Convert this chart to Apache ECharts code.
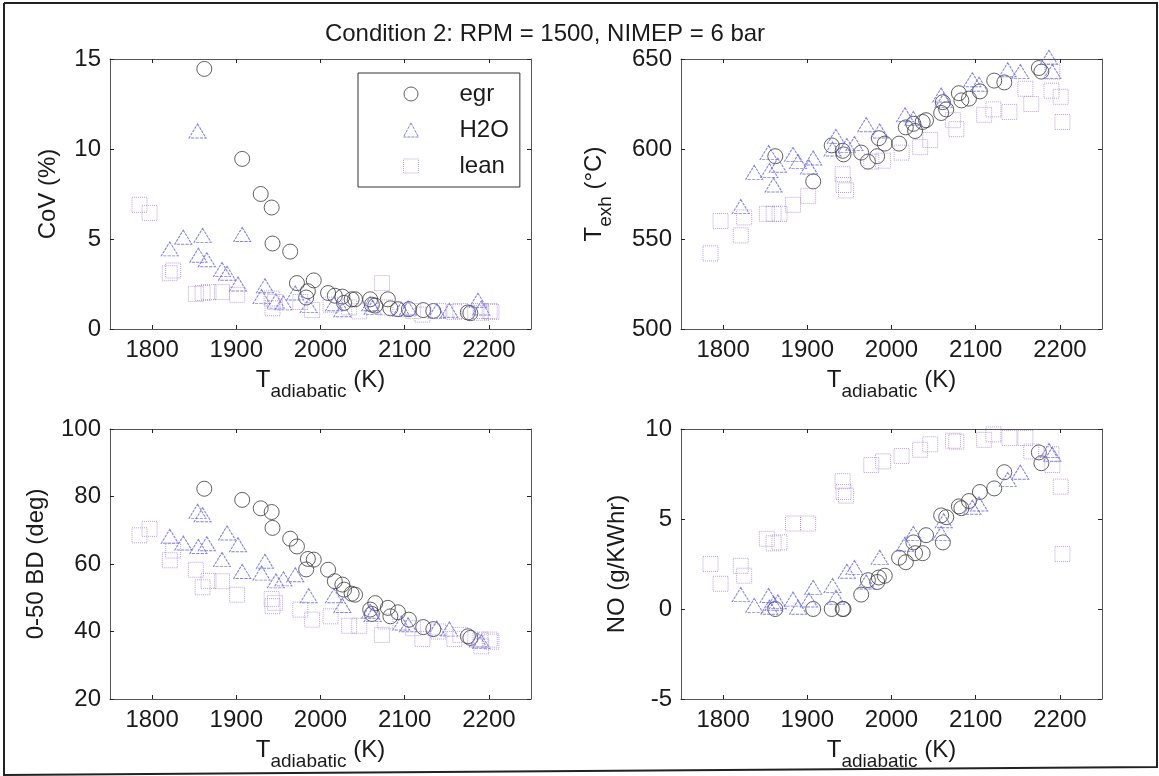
<!DOCTYPE html>
<html>
<head>
<meta charset="utf-8">
<title>Condition 2: RPM = 1500, NIMEP = 6 bar</title>
<script src="https://cdn.jsdelivr.net/npm/echarts@6/dist/echarts.min.js"></script>
<style>
html, body { margin: 0; padding: 0; background: #fff; }
#chart_div { width: 1159px; height: 776px; }
</style>
</head>
<body>
<div id="chart_div"></div>
<script>
var FONT = "'Liberation Sans', Arial, Helvetica, sans-serif";
var AXIS_COLOR = "#555";
var TEXT_COLOR = "#1a1a1a";

// x axis (T adiabatic, K) shared by all four panels
var xTicks = [1800, 1900, 2000, 2100, 2200];
var xMin = 1750, xMax = 2250;

// egr points
var egrT    = [1862, 1907, 1929, 1942, 1943, 1964, 1972, 1983, 1985, 1992, 2009, 2017, 2026, 2028, 2037, 2041, 2059, 2061, 2065, 2080, 2083, 2092, 2105, 2122, 2134, 2175, 2178];
var egrCoV  = [14.45, 9.45, 7.5, 6.75, 4.75, 4.3, 2.55, 1.75, 2.1, 2.7, 2.0, 1.85, 1.8, 1.45, 1.65, 1.65, 1.65, 1.35, 1.3, 1.65, 1.15, 1.1, 1.1, 1.05, 1.0, 0.92, 0.88];
var egrTexh = [596, 582, 602, 599, 597, 598, 593, 596, 606, 603, 603, 612, 614, 610, 615, 616, 620, 626, 622, 631, 627, 628, 632, 638, 637, 645, 643];
var egrBD   = [82.3, 79, 76.5, 75.4, 70.7, 67.5, 65.2, 58.4, 61.5, 61.3, 58.3, 54.9, 53.9, 52.4, 51.2, 50.9, 46.5, 45.2, 48.4, 47, 44.5, 45.7, 43.5, 41.3, 40.7, 38.6, 38.1];
var egrNO   = [0, 0, 0, 0, 0, 0.8, 1.6, 1.5, 1.75, 1.85, 2.85, 2.6, 3.7, 3.1, 3.1, 4.1, 5.2, 3.7, 5.1, 5.7, 5.6, 6.0, 6.5, 6.7, 7.6, 8.7, 8.1];

// H2O points
var h2oT    = [1821, 1837, 1854, 1855, 1860, 1865, 1883, 1889, 1902, 1907, 1930, 1934, 1947, 1956, 1970, 1986, 2016, 2026, 2059, 2062, 2096, 2104, 2138, 2153, 2187, 2191];
var h2oCoV  = [4.45, 5.1, 11.0, 4.1, 5.2, 3.85, 3.3, 3.1, 2.5, 5.25, 1.8, 2.4, 1.55, 1.45, 2.0, 1.3, 1.4, 1.07, 1.4, 1.2, 1.1, 1.17, 1.0, 1.04, 1.6, 1.17];
var h2oTexh = [568, 587, 598, 588, 580, 591, 597, 593, 590, 595, 600, 607, 602, 603, 613.5, 610, 619, 617, 630, 627, 638.5, 636, 644, 643, 651, 643];
var h2oBD   = [68.2, 66.2, 75.6, 65.2, 74.6, 66, 61.3, 69.2, 65.7, 57.8, 57.3, 60.8, 55, 55.6, 56.8, 50.6, 50.6, 47.7, 46, 45, 42.5, 42, 41, 40.7, 37.5, 37];
var h2oNO   = [0.8, 0.2, 0.75, 0.1, 0.3, 0.4, 0.55, 0.1, 0.5, 1.2, 1.3, 0.65, 2.1, 2.3, 1.5, 2.87, 3.6, 4.2, 4.2, 4.9, 5.65, 5.83, 7.2, 7.6, 8.8, 8.6];

// lean points
var leanT    = [1785, 1797, 1821, 1825, 1852, 1860, 1867, 1883, 1901, 1942, 1943, 1946, 1976, 1990, 2012, 2034, 2046, 2073, 2077, 2110, 2121, 2140, 2159, 2166, 2190, 2191, 2201, 2203];
var leanCoV  = [6.9, 6.45, 3.1, 3.25, 1.95, 2.0, 2.05, 2.05, 1.9, 1.7, 1.15, 1.5, 1.5, 1.05, 1.35, 1.2, 0.98, 2.55, 1.2, 1.0, 0.8, 1.0, 0.95, 1.0, 1.0, 0.9, 1.0, 0.95];
var leanTexh = [542, 560, 552, 562, 564, 564, 564, 569, 574, 586, 580, 577, 593, 593.5, 598, 601, 605, 616, 611, 619, 622, 620.6, 633.5, 625, 632.4, 643, 629, 615];
var leanBD   = [68.5, 70.4, 61.1, 64, 58.3, 53.1, 55, 54.9, 50.9, 49.6, 47.5, 48.5, 46.5, 43.5, 44.5, 41.7, 41.7, 39, 43, 41, 37.8, 40, 37.8, 39, 37.6, 35.6, 37.6, 37];
var leanNO   = [2.5, 1.4, 2.4, 1.85, 3.9, 3.65, 3.7, 4.75, 4.75, 7.1, 6.5, 6.3, 8.0, 8.2, 8.5, 8.85, 9.15, 9.35, 9.3, 9.4, 9.7, 9.5, 9.5, 8.75, 8.6, 8.0, 6.8, 3.05];

var titleText = "Condition 2: RPM = 1500, NIMEP = 6 bar";
var legendNames = ["egr", "H2O", "lean"];

// panel order: top-left, top-right, bottom-left, bottom-right
var panels = [
	{ left: 110, top: 59,  yMin: 0,   yMax: 15,  yStep: 5,  yName: "CoV (%)",                   yGap: 50, data: [egrCoV, h2oCoV, leanCoV] },
	{ left: 681, top: 59,  yMin: 500, yMax: 650, yStep: 50, yName: "{m|T}{s|exh}{m| (\u00B0C)}", yGap: 66, data: [egrTexh, h2oTexh, leanTexh] },
	{ left: 110, top: 429, yMin: 20,  yMax: 100, yStep: 20, yName: "0-50 BD (deg)",             yGap: 62, data: [egrBD, h2oBD, leanBD] },
	{ left: 681, top: 429, yMin: -5,  yMax: 10,  yStep: 5,  yName: "NO (g/KWhr)",               yGap: 52, data: [egrNO, h2oNO, leanNO] }
];
var seriesX = [egrT, h2oT, leanT];

var markerStyles = [
	{ symbol: "circle",   size: 15,       color: "#3a3a3a", type: "solid" },
	{ symbol: "triangle", size: [17, 14], color: "#6262e0", type: [3, 1] },
	{ symbol: "rect",     size: 15,       color: "#a98ad0", type: "dotted" }
];

var subRich = {
	m: { fontSize: 24, fontFamily: FONT, color: TEXT_COLOR },
	s: { fontSize: 19, fontFamily: FONT, color: TEXT_COLOR, padding: [22, 0, 0, 0] }
};

function zip(xs, ys) {
	var out = [];
	for (var i = 0; i < xs.length; i++) {
		out.push([xs[i], ys[i]]);
	}
	return out;
}

function plainNumber(v) {
	return String(v);
}

function axisLineStyle() {
	return { show: true, onZero: false, lineStyle: { color: AXIS_COLOR, width: 1 } };
}

function buildOption() {
	var grids = [], xAxes = [], yAxes = [], series = [];
	for (var i = 0; i < panels.length; i++) {
		var p = panels[i];
		grids.push({ left: p.left, top: p.top, width: 421, height: 270 });

		// bottom x axis with labels, top one only for the box ticks
		xAxes.push({
			gridIndex: i, type: "value", position: "bottom", min: xMin, max: xMax,
			axisLine: axisLineStyle(),
			axisTick: { show: true, inside: true, length: 4, customValues: xTicks, lineStyle: { color: "#222" } },
			axisLabel: { show: true, customValues: xTicks, formatter: plainNumber, margin: 9, color: TEXT_COLOR, fontSize: 24, fontFamily: FONT },
			splitLine: { show: false },
			name: "{m|T}{s|adiabatic}{m| (K)}", nameLocation: "middle", nameGap: 31,
			nameTextStyle: { rich: subRich }
		});
		xAxes.push({
			gridIndex: i, type: "value", position: "top", min: xMin, max: xMax,
			axisLine: axisLineStyle(),
			axisTick: { show: true, inside: true, length: 4, customValues: xTicks, lineStyle: { color: "#222" } },
			axisLabel: { show: false },
			splitLine: { show: false }
		});

		var rich = p.yName.indexOf("{") >= 0;
		yAxes.push({
			gridIndex: i, type: "value", position: "left", min: p.yMin, max: p.yMax, interval: p.yStep,
			axisLine: axisLineStyle(),
			axisTick: { show: true, inside: true, length: 4, lineStyle: { color: "#222" } },
			axisLabel: { show: true, formatter: plainNumber, margin: 9, color: TEXT_COLOR, fontSize: 24, fontFamily: FONT },
			splitLine: { show: false },
			name: p.yName, nameLocation: "middle", nameGap: p.yGap,
			nameTextStyle: rich ? { rich: subRich } : { fontSize: 24, fontFamily: FONT, color: TEXT_COLOR }
		});
		yAxes.push({
			gridIndex: i, type: "value", position: "right", min: p.yMin, max: p.yMax, interval: p.yStep,
			axisLine: axisLineStyle(),
			axisTick: { show: true, inside: true, length: 4, lineStyle: { color: "#222" } },
			axisLabel: { show: false },
			splitLine: { show: false }
		});

		for (var s = 0; s < legendNames.length; s++) {
			var m = markerStyles[s];
			series.push({
				name: legendNames[s],
				type: "scatter",
				xAxisIndex: 2 * i,
				yAxisIndex: 2 * i,
				symbol: m.symbol,
				symbolSize: m.size,
				clip: false,
				itemStyle: { color: "rgba(0,0,0,0)", borderColor: m.color, borderWidth: 1, borderType: m.type },
				emphasis: { disabled: true },
				data: zip(seriesX[s], p.data[s])
			});
		}
	}

	var legendData = [];
	for (var k = 0; k < legendNames.length; k++) {
		var ms = markerStyles[k];
		legendData.push({
			name: legendNames[k],
			icon: ms.symbol,
			itemStyle: { color: "rgba(0,0,0,0)", borderColor: ms.color, borderWidth: 1, borderType: ms.type }
		});
	}

	return {
		animation: false,
		backgroundColor: "#fff",
		grid: grids,
		xAxis: xAxes,
		yAxis: yAxes,
		legend: {
			data: legendData,
			orient: "vertical",
			left: 358,
			top: 73,
			itemWidth: 15,
			itemHeight: 14,
			itemGap: 12,
			padding: [9, 11, 9, 45],
			borderColor: "#333",
			borderWidth: 1,
			backgroundColor: "#fff",
			selectedMode: false,
			textStyle: { fontSize: 24, fontFamily: FONT, color: TEXT_COLOR, padding: [0, 0, 0, 36] }
		},
		graphic: [
			{
				type: "text", x: 545, y: 34,
				style: { text: titleText, font: "24px " + FONT, fill: TEXT_COLOR, align: "center", verticalAlign: "middle" }
			},
			{
				// outer frame of the scanned figure
				type: "polyline",
				shape: { points: [[4, 3], [1157, 3], [1157, 767], [4, 775], [4, 3]] },
				style: { stroke: "#222", lineWidth: 2, fill: null }
			}
		],
		series: series
	};
}

var chart = echarts.init(document.getElementById("chart_div"));
chart.setOption(buildOption());
</script>
</body>
</html>
